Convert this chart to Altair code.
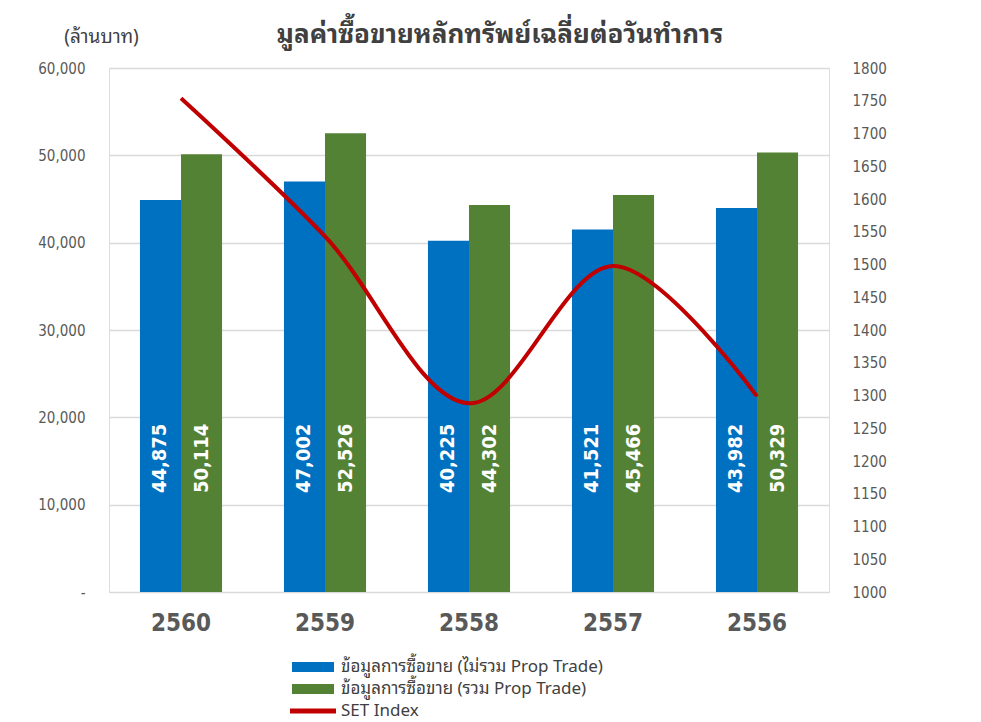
import altair as alt
import pandas as pd

# ---- data ----
years = ["2560", "2559", "2558", "2557", "2556"]
value_excl_prop = [44875, 47002, 40225, 41521, 43982]
value_incl_prop = [50114, 52526, 44302, 45466, 50329]
set_index = [1753.71, 1542.94, 1288.02, 1497.67, 1298.71]

s_excl = "ข้อมูลการซื้อขาย (ไม่รวม Prop Trade)"
s_incl = "ข้อมูลการซื้อขาย (รวม Prop Trade)"
s_set = "SET Index"
series_order = [s_excl, s_incl]

bar_df = pd.DataFrame({
    "year": years * 2,
    "series": [s_excl] * len(years) + [s_incl] * len(years),
    "value": value_excl_prop + value_incl_prop,
})
line_df = pd.DataFrame({"year": years, "index": set_index})

NUM_FONT = "DejaVu Sans Condensed"
THAI_FONT = "Noto Sans Thai Looped, Noto Sans Thai, Tahoma, Noto Sans, DejaVu Sans Condensed"

color_scale = alt.Scale(domain=[s_excl, s_incl, s_set],
                        range=["#0070C0", "#548235", "#C00000"])

x_enc = alt.X(
    "year:N", sort=years,
    scale=alt.Scale(paddingInner=0.43, paddingOuter=0.215),
    axis=alt.Axis(title=None, labelAngle=0, labelFontSize=24, labelFontWeight="bold",
                  labelColor="#595959", labelPadding=19, ticks=False, domain=False,
                  labelFont=NUM_FONT),
)

BAR_SYM = "M-2.1,-0.5H2.1V0.5H-2.1Z"
LINE_SYM = "M-2.3,-0.24H2.3V0.24H-2.3Z"

legend = alt.Legend(
    title=None, orient="none", legendX=194, legendY=589, direction="vertical",
    symbolType={"expr": f"datum.value === 'SET Index' ? '{LINE_SYM}' : '{BAR_SYM}'"},
    symbolSize=400, symbolStrokeWidth=0,
    symbolFillColor={"expr": "scale('color', datum.value)"},
    symbolStrokeColor={"expr": "scale('color', datum.value)"},
    labelFontSize=17, labelColor="#404040", labelFont=THAI_FONT, labelLimit=500,
    rowPadding=4, labelOffset=18, symbolOpacity=1,
)

bars = alt.Chart(bar_df).mark_bar().encode(
    x=x_enc,
    xOffset=alt.XOffset("series:N", sort=series_order),
    y=alt.Y(
        "value:Q",
        scale=alt.Scale(domain=[0, 60000], nice=False),
        axis=alt.Axis(
            values=list(range(0, 60001, 10000)),
            labelExpr="datum.value == 0 ? '-' : format(datum.value, ',')",
            title="(ล้านบาท)", titleAngle=0, titleX=-8, titleY=-32,
            titleAlign="center", titleBaseline="middle", titleFontSize=19,
            titleFontWeight="normal", titleColor="#404040", titleFont=THAI_FONT,
            ticks=False, domain=False, labelPadding=24,
            gridColor="#d9d9d9", gridWidth=1.5,
            labelFontSize=15, labelColor="#595959", labelFont=NUM_FONT,
        ),
    ),
    color=alt.Color("series:N", scale=color_scale, legend=legend),
)

labels = alt.Chart(bar_df).mark_text(
    angle=270, color="white", fontSize=20, fontWeight="bold", font=NUM_FONT,
    align="center", baseline="middle",
).encode(
    x=x_enc,
    xOffset=alt.XOffset("series:N", sort=series_order),
    y=alt.datum(15300),
    text=alt.Text("value:Q", format=","),
)

line = alt.Chart(line_df).mark_line(interpolate="catmull-rom", strokeWidth=4).encode(
    x=alt.X("year:N", sort=years),
    y=alt.Y(
        "index:Q",
        scale=alt.Scale(domain=[1000, 1800], nice=False, zero=False),
        axis=alt.Axis(
            orient="right", values=list(range(1000, 1801, 50)), title=None, format="d",
            grid=False, ticks=False, domain=False, labelPadding=23,
            labelFontSize=15, labelColor="#595959", labelFont=NUM_FONT,
        ),
    ),
    color=alt.datum(s_set),
)

chart = alt.layer(alt.layer(bars, labels), line).resolve_scale(
    y="independent"
).properties(
    width=720, height=524,
    padding={"left": 29, "top": 14, "right": 5, "bottom": 5},
    title=alt.TitleParams(
        text="มูลค่าซื้อขายหลักทรัพย์เฉลี่ยต่อวันทำการ", fontSize=26, fontWeight="bold",
        color="#404040", anchor="middle", dx=31, dy=37, offset=16, font=THAI_FONT,
    ),
).configure_view(stroke=None).configure(background="white")

chart.save("out.html", embed_options={"renderer": "svg", "actions": False})
